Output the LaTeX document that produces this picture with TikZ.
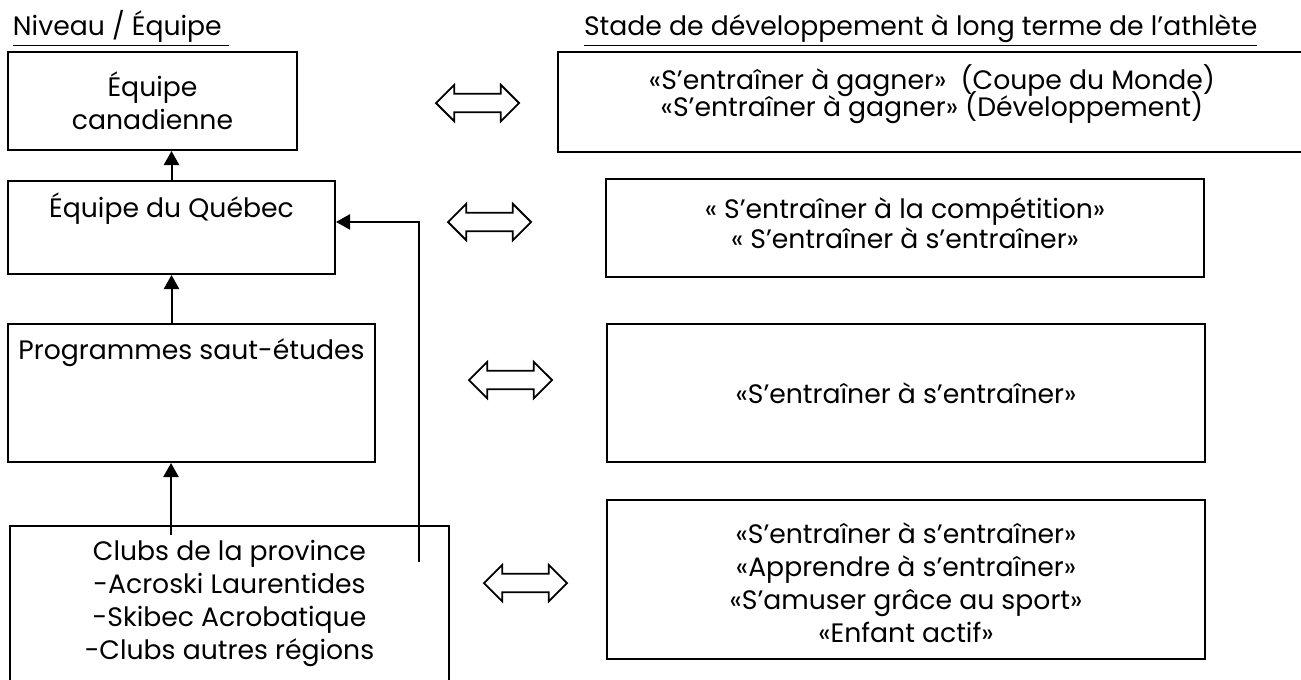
\documentclass[tikz,border=0pt]{standalone}
\usepackage{fontspec}
\setmainfont{Poppins}
\usetikzlibrary{arrows.meta, positioning, shapes.arrows}

\begin{document}
\begin{tikzpicture}[x=0.45pt, y=-0.45pt, line width=0.9pt,
    boite/.style={draw, rectangle, inner sep=0pt},
    texte/.style={align=center, font=\fontsize{12}{14.85}\selectfont, inner sep=0pt},
    lien/.style={draw, double arrow, double arrow head extend=4.05pt, inner xsep=0pt, inner ysep=3.8pt, minimum height=37.35pt, line width=0.8pt},
    fleche/.style={-{Triangle[length=6.3pt, width=6.8pt]}, line width=0.9pt}]
        \path[use as bounding box, fill=white] (0,0) rectangle (1301,679);

        % Titres
        \node[texte, anchor=base west] (titreNiveau) at (12,35) {\underline{Niveau / Équipe\ }};
        \node[texte, anchor=base west] (titreStade) at (583,35) {\underline{Stade de développement à long terme de l’athlète}};

        % Niveaux
        \node[boite, texte, minimum width=289*0.45pt, minimum height=98*0.45pt] (canada) at (152.5,101) {Équipe\\canadienne};
        \node[boite, minimum width=327*0.45pt, minimum height=93*0.45pt] (quebec) at (171.5,227.5) {};
        \node[texte] (quebecT) at (171.5,209) {Équipe du Québec};
        \node[boite, minimum width=367*0.45pt, minimum height=138*0.45pt] (prog) at (191.5,393) {};
        \node[texte] (progT) at (191.5,353) {Programmes saut-études};
        \node[boite, minimum width=439*0.45pt, minimum height=174*0.45pt] (clubs) at (229.5,613) {};
        \node[texte] (clubsT) at (229.5,603) {Clubs de la province\\-Acroski Laurentides\\-Skibec Acrobatique\\-Clubs autres régions};

        % Stades
        \node[boite, minimum width=748*0.45pt, minimum height=100*0.45pt] (gagner) at (932,102) {};
        \node[texte] (gagnerT) at (932,94) {«S’entraîner à gagner»\ \ (Coupe du Monde)\\[-2.7pt]«S’entraîner à gagner» (Développement)};
        \node[boite, minimum width=598*0.45pt, minimum height=98*0.45pt] (competition) at (905,228) {};
        \node[texte] (competitionT) at (905,223) {« S’entraîner à la compétition»\\[-1.35pt]« S’entraîner à s’entraîner»};
        \node[boite, texte, minimum width=598*0.45pt, minimum height=138*0.45pt] (entrainer) at (906,393) {«S’entraîner à s’entraîner»};
        \node[boite, minimum width=598*0.45pt, minimum height=159*0.45pt] (enfant) at (906,579.5) {};
        \node[texte] (enfantT) at (906,583) {«S’entraîner à s’entraîner»\\«Apprendre à s’entraîner»\\«S’amuser grâce au sport»\\«Enfant actif»};

        % Doubles fleches
        \node[lien] (lien1) at (477.5,103) {};
        \node[lien] (lien2) at (489.5,222) {};
        \node[lien] (lien3) at (510.5,380) {};
        \node[lien] (lien4) at (525.5,583) {};

        % Fleches
        \coordinate (depart) at (171,535);
        \coordinate (coude) at (419,562);
        \draw[fleche] (depart) -- (prog.south -| depart);
        \draw[fleche] (prog.north -| quebec.north) -- (quebec.south);
        \draw[fleche] (quebec.north) -- (canada.south -| quebec.north);
        \draw[fleche] (coude) |- ([yshift=2.5pt]quebec.east);
    \end{tikzpicture}
\end{document}
